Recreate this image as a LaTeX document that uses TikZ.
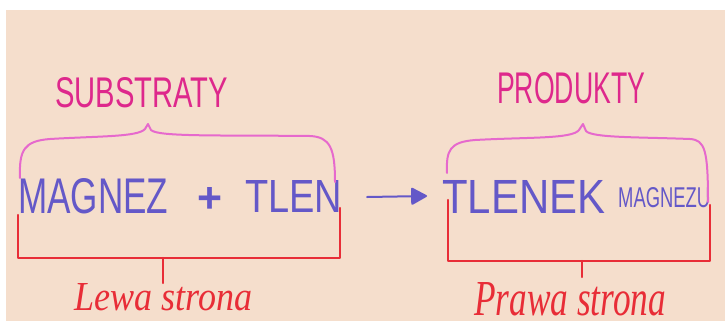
\documentclass[tikz,border=0pt]{standalone}
\usepackage{fontspec}
\usepackage{graphicx}
\setmainfont{Liberation Sans}
\newfontfamily\handfont{Liberation Serif}
\usetikzlibrary{arrows.meta}

\definecolor{paper}{RGB}{245,222,204}
\definecolor{titlepink}{RGB}{222,40,140}
\definecolor{bracepink}{RGB}{230,105,205}
\definecolor{inkblue}{RGB}{100,88,200}
\definecolor{inkred}{RGB}{232,45,55}

\tikzset{
  marker/.style={line width=2.4pt, line cap=round, line join=round},
  title/.style={inner sep=0pt, anchor=north west, text=titlepink},
  formula/.style={inner sep=0pt, anchor=north west, text=inkblue},
  sidelabel/.style={inner sep=0pt, anchor=north west, text=inkred},
  brace/.style={marker, draw=bracepink, line width=2pt},
  bracket/.style={marker, draw=inkred, line width=2.2pt},
}

\begin{document}
\begin{tikzpicture}[x=1pt, y=-1pt]
  % page and sheet of paper
  \fill[white] (0,0) rectangle (725,327);
  \useasboundingbox (0,0) rectangle (725,327);
  \fill[paper] (6,10) rectangle (725,321);

  % headings
  \node[title] (subs) at (55,77) {\resizebox{173pt}{30pt}{SUBSTRATY}};
  \node[title] (prod) at (497,72) {\resizebox{148pt}{31pt}{PRODUKTY}};

  % equation
  \node[formula] (mg)   at (18,178)  {\resizebox{150pt}{35pt}{MAGNEZ}};
  \node[formula] (plus) at (197,187) {\resizebox{25pt}{25pt}{\bfseries +}};
  \node[formula] (o2)   at (245,180) {\resizebox{97pt}{32pt}{TLEN}};
  \node[formula] (mgo)  at (442,180) {\resizebox{163pt}{33pt}{TLENEK}};
  \node[formula] (mgo2) at (618,187) {\resizebox{92pt}{20pt}{MAGNEZU}};

  % reaction arrow
  \coordinate (arrS) at (367,197);
  \coordinate (arrE) at (427,196);
  \draw[draw=inkblue, line width=2pt, line cap=round,
        -{Triangle[length=17pt,width=18pt,round]}] (arrS) -- (arrE);

  % braces over both sides
  \draw[brace] (20,178) .. controls (19,150) and (24,141) .. (50,139)
    .. controls (100,136) and (138,137) .. (145,129)
    -- (148,124) -- (151,130)
    .. controls (158,137) and (220,135) .. (310,136)
    .. controls (330,137) and (335,148) .. (335,182);
  \draw[brace] (447,173) .. controls (446,150) and (450,142) .. (475,140)
    .. controls (530,137) and (572,139) .. (579,130)
    -- (583,124) -- (586,131)
    .. controls (592,138) and (640,137) .. (690,139)
    .. controls (705,140) and (708,150) .. (708,202);

  % brackets under both sides with their labels
  \node[sidelabel] (left)  at (74,283)
    {\resizebox{178pt}{27pt}{\handfont\itshape Lewa strona}};
  \node[sidelabel] (right) at (474,282)
    {\resizebox{192pt}{33pt}{\handfont\itshape Prawa strona}};

  \draw[bracket] (18,215) -- (18,258) -- (340,258) -- (340,208);
  \coordinate (lt) at (163,258);
  \draw[bracket] (lt) -- (163,283);
  \draw[bracket] (448,200) -- (448,261) -- (710,261) -- (710,205);
  \coordinate (rt) at (582,261);
  \draw[bracket] (rt) -- (582,277);
\end{tikzpicture}
\end{document}
